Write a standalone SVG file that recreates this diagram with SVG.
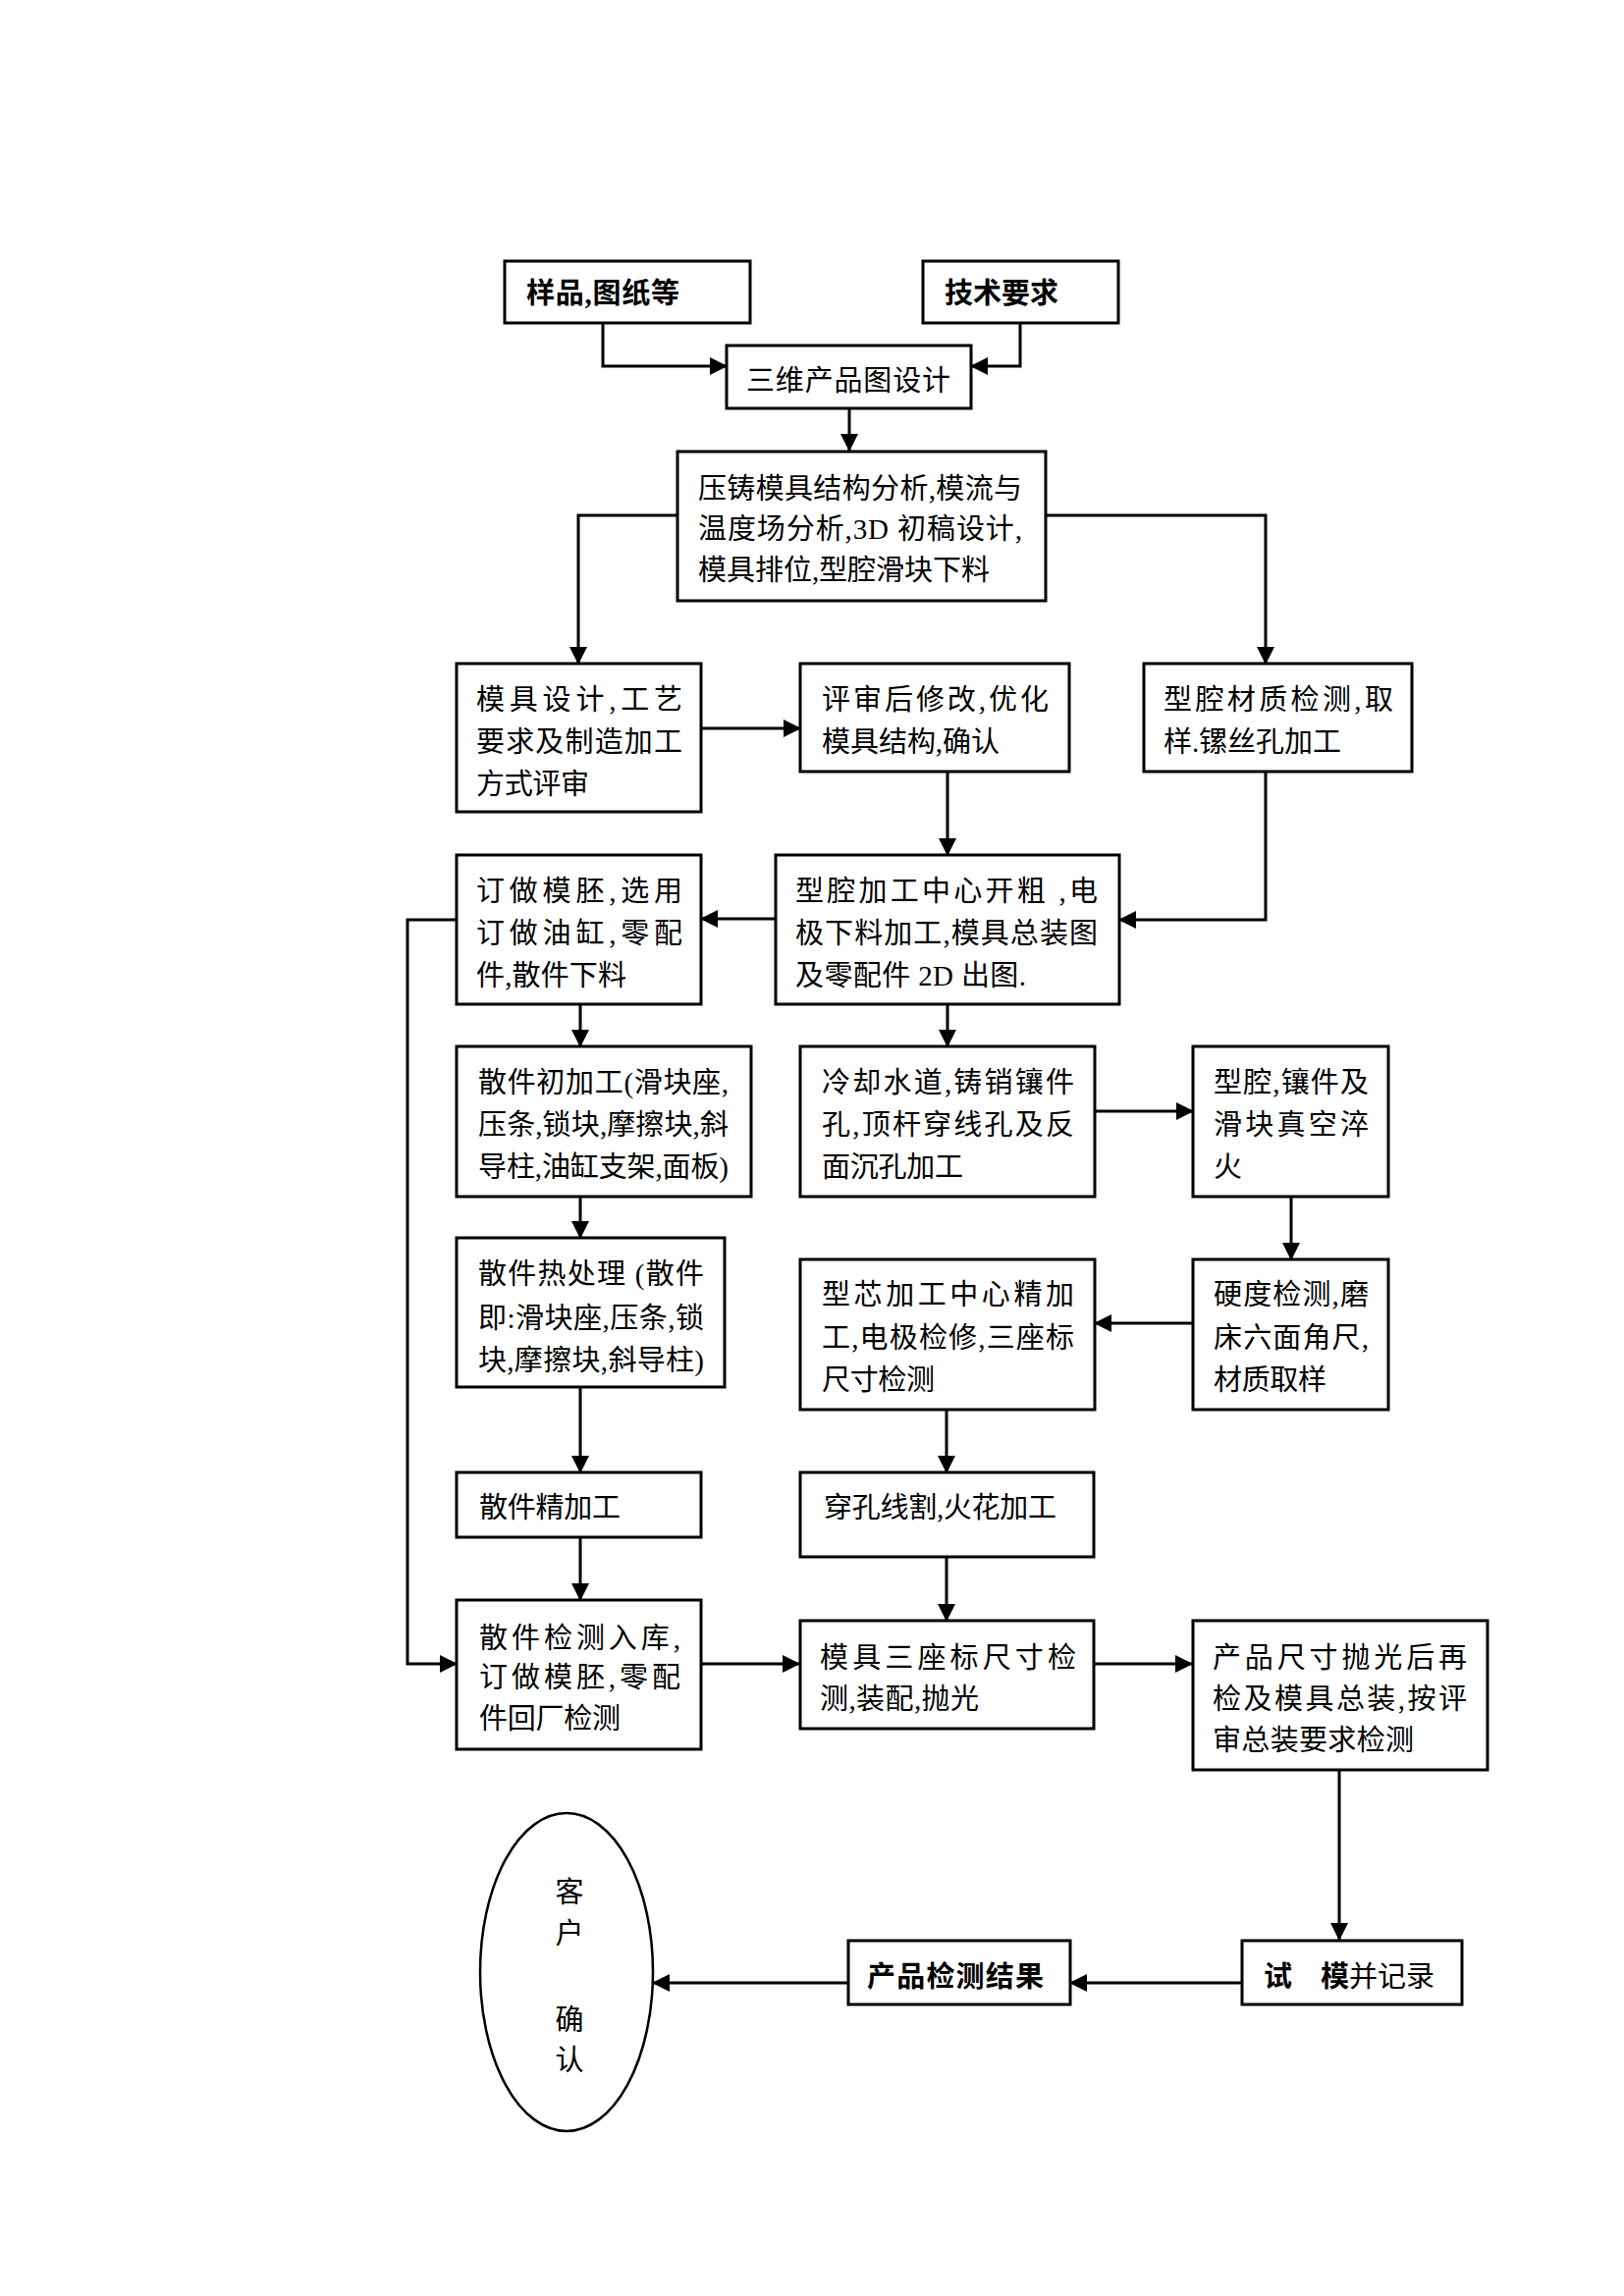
<svg xmlns="http://www.w3.org/2000/svg" width="1654" height="2339" viewBox="0 0 1654 2339">
<style>
.box{fill:#fff;stroke:#000;stroke-width:3}
.t{font-family:"Liberation Serif","Noto Sans CJK SC",serif;font-size:29px;fill:#000}
.b{font-weight:bold}
.c{fill:none;stroke:#000;stroke-width:3}
</style>
<defs>
<marker id="ah" markerUnits="userSpaceOnUse" markerWidth="18" markerHeight="18" viewBox="0 0 18 18" refX="17" refY="9" orient="auto">
<path d="M0,0 L18,9 L0,18 z" fill="#000"/>
</marker>
</defs>
<rect width="1654" height="2339" fill="#fff"/>
<g id="connectors">
<path class="c" d="M614,330 V373 H740" marker-end="url(#ah)"/>
<path class="c" d="M1039,330 V373 H989" marker-end="url(#ah)"/>
<path class="c" d="M865,416 V459" marker-end="url(#ah)"/>
<path class="c" d="M690,525 H589 V676" marker-end="url(#ah)"/>
<path class="c" d="M1065,525 H1289 V676" marker-end="url(#ah)"/>
<path class="c" d="M714,742 H815" marker-end="url(#ah)"/>
<path class="c" d="M965,786 V871" marker-end="url(#ah)"/>
<path class="c" d="M1289,786 V937 H1140" marker-end="url(#ah)"/>
<path class="c" d="M790,936 H714" marker-end="url(#ah)"/>
<path class="c" d="M465,937 H415 V1695 H465" marker-end="url(#ah)"/>
<path class="c" d="M591,1023 V1066" marker-end="url(#ah)"/>
<path class="c" d="M965,1023 V1066" marker-end="url(#ah)"/>
<path class="c" d="M1115,1132 H1215" marker-end="url(#ah)"/>
<path class="c" d="M591,1219 V1261" marker-end="url(#ah)"/>
<path class="c" d="M1315,1219 V1283" marker-end="url(#ah)"/>
<path class="c" d="M1215,1348 H1115" marker-end="url(#ah)"/>
<path class="c" d="M591,1413 V1500" marker-end="url(#ah)"/>
<path class="c" d="M964,1436 V1500" marker-end="url(#ah)"/>
<path class="c" d="M591,1566 V1630" marker-end="url(#ah)"/>
<path class="c" d="M964,1586 V1651" marker-end="url(#ah)"/>
<path class="c" d="M714,1695 H814" marker-end="url(#ah)"/>
<path class="c" d="M1114,1695 H1214" marker-end="url(#ah)"/>
<path class="c" d="M1364,1803 V1976" marker-end="url(#ah)"/>
<path class="c" d="M1265,2020 H1090" marker-end="url(#ah)"/>
<path class="c" d="M864,2020 H665" marker-end="url(#ah)"/>
</g>
<g id="n1"><rect class="box" x="514" y="266" width="250" height="63"/>
<text class="t b" x="536" y="309" textLength="156">样品,图纸等</text></g>
<g id="n2"><rect class="box" x="940" y="266" width="199" height="63"/>
<text class="t b" x="962" y="309" textLength="116">技术要求</text></g>
<g id="n3"><rect class="box" x="740" y="352" width="249" height="64"/>
<text class="t" x="760" y="398" textLength="208">三维产品图设计</text></g>
<g id="n4"><rect class="box" x="690" y="460" width="375" height="152"/>
<text class="t" x="711" y="508" textLength="330">压铸模具结构分析,模流与</text>
<text class="t" x="711" y="549" textLength="330">温度场分析,3D 初稿设计,</text>
<text class="t" x="711" y="591" textLength="297">模具排位,型腔滑块下料</text></g>
<g id="n5"><rect class="box" x="465" y="676" width="249" height="151"/>
<text class="t" x="485" y="723" textLength="210">模具设计,工艺</text>
<text class="t" x="485" y="766" textLength="210">要求及制造加工</text>
<text class="t" x="485" y="809" textLength="115">方式评审</text></g>
<g id="n6"><rect class="box" x="815" y="676" width="274" height="110"/>
<text class="t" x="837" y="723" textLength="231">评审后修改,优化</text>
<text class="t" x="837" y="766" textLength="181">模具结构,确认</text></g>
<g id="n7"><rect class="box" x="1165" y="676" width="273" height="110"/>
<text class="t" x="1185" y="723" textLength="234">型腔材质检测,取</text>
<text class="t" x="1185" y="766" textLength="181">样.镙丝孔加工</text></g>
<g id="n8"><rect class="box" x="465" y="871" width="249" height="152"/>
<text class="t" x="485" y="918" textLength="210">订做模胚,选用</text>
<text class="t" x="485" y="961" textLength="210">订做油缸,零配</text>
<text class="t" x="485" y="1004" textLength="153">件,散件下料</text></g>
<g id="n9"><rect class="box" x="790" y="871" width="350" height="152"/>
<text class="t" x="810" y="918" textLength="308">型腔加工中心开粗 ,电</text>
<text class="t" x="810" y="961" textLength="308">极下料加工,模具总装图</text>
<text class="t" x="810" y="1004" textLength="235">及零配件 2D 出图.</text></g>
<g id="n10"><rect class="box" x="465" y="1066" width="300" height="153"/>
<text class="t" x="487" y="1113" textLength="255">散件初加工(滑块座,</text>
<text class="t" x="487" y="1156" textLength="255">压条,锁块,摩擦块,斜</text>
<text class="t" x="487" y="1199" textLength="255">导柱,油缸支架,面板)</text></g>
<g id="n11"><rect class="box" x="815" y="1066" width="300" height="153"/>
<text class="t" x="837" y="1113" textLength="257">冷却水道,铸销镶件</text>
<text class="t" x="837" y="1156" textLength="257">孔,顶杆穿线孔及反</text>
<text class="t" x="837" y="1199" textLength="144">面沉孔加工</text></g>
<g id="n12"><rect class="box" x="1215" y="1066" width="199" height="153"/>
<text class="t" x="1236" y="1113" textLength="158">型腔,镶件及</text>
<text class="t" x="1236" y="1156" textLength="158">滑块真空淬</text>
<text class="t" x="1236" y="1199">火</text></g>
<g id="n13"><rect class="box" x="465" y="1261" width="273" height="152"/>
<text class="t" x="487" y="1308" textLength="230">散件热处理 (散件</text>
<text class="t" x="487" y="1353" textLength="230">即:滑块座,压条,锁</text>
<text class="t" x="487" y="1396" textLength="230">块,摩擦块,斜导柱)</text></g>
<g id="n14"><rect class="box" x="815" y="1283" width="300" height="153"/>
<text class="t" x="837" y="1329" textLength="257">型芯加工中心精加</text>
<text class="t" x="837" y="1373" textLength="257">工,电极检修,三座标</text>
<text class="t" x="837" y="1416" textLength="115">尺寸检测</text></g>
<g id="n15"><rect class="box" x="1215" y="1283" width="199" height="153"/>
<text class="t" x="1236" y="1329" textLength="158">硬度检测,磨</text>
<text class="t" x="1236" y="1373" textLength="158">床六面角尺,</text>
<text class="t" x="1236" y="1416" textLength="115">材质取样</text></g>
<g id="n16"><rect class="box" x="465" y="1500" width="249" height="66"/>
<text class="t" x="488" y="1546" textLength="144">散件精加工</text></g>
<g id="n17"><rect class="box" x="815" y="1500" width="299" height="86"/>
<text class="t" x="839" y="1546" textLength="237">穿孔线割,火花加工</text></g>
<g id="n18"><rect class="box" x="465" y="1630" width="249" height="152"/>
<text class="t" x="488" y="1679" textLength="205">散件检测入库,</text>
<text class="t" x="488" y="1719" textLength="205">订做模胚,零配</text>
<text class="t" x="488" y="1761" textLength="144">件回厂检测</text></g>
<g id="n19"><rect class="box" x="815" y="1651" width="299" height="110"/>
<text class="t" x="835" y="1699" textLength="261">模具三座标尺寸检</text>
<text class="t" x="835" y="1741" textLength="162">测,装配,抛光</text></g>
<g id="n20"><rect class="box" x="1215" y="1651" width="300" height="152"/>
<text class="t" x="1235" y="1699" textLength="259">产品尺寸抛光后再</text>
<text class="t" x="1235" y="1741" textLength="259">检及模具总装,按评</text>
<text class="t" x="1235" y="1783" textLength="205">审总装要求检测</text></g>
<g id="n21"><rect class="box" x="1265" y="1977" width="224" height="65"/>
<text class="t" x="1287" y="2024"><tspan class="b">试 </tspan><tspan class="b" x="1345">模</tspan><tspan>并记录</tspan></text></g>
<g id="n22"><rect class="box" x="864" y="1977" width="226" height="65"/>
<text class="t b" x="883" y="2024" textLength="180">产品检测结果</text></g>
<g id="n23"><ellipse cx="577" cy="2009" rx="88" ry="162" fill="#fff" stroke="#000" stroke-width="2.5"/>
<text class="t" x="580" y="1938" text-anchor="middle">客</text>
<text class="t" x="580" y="1980" text-anchor="middle">户</text>
<text class="t" x="580" y="2068" text-anchor="middle">确</text>
<text class="t" x="580" y="2109" text-anchor="middle">认</text></g>
</svg>
